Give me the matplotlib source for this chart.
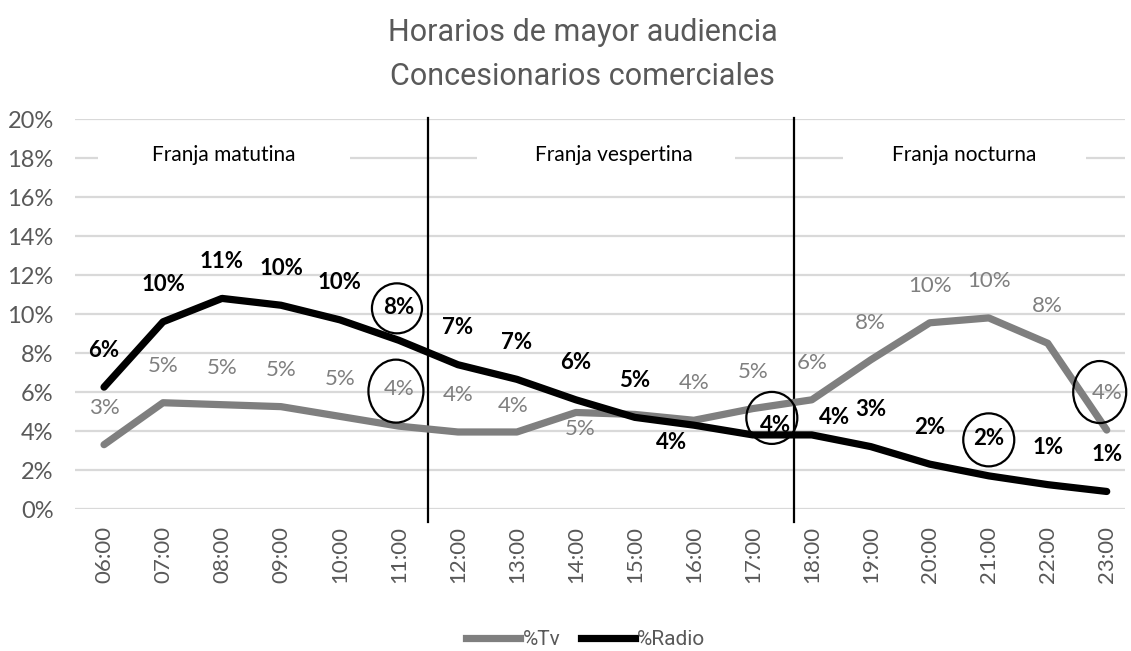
import matplotlib
matplotlib.use('Agg')
import matplotlib.pyplot as plt
from matplotlib.patches import Ellipse, Rectangle
from matplotlib.transforms import IdentityTransform, ScaledTranslation
from matplotlib.lines import Line2D

# datos
horas = ['06:00', '07:00', '08:00', '09:00', '10:00', '11:00', '12:00', '13:00', '14:00',
         '15:00', '16:00', '17:00', '18:00', '19:00', '20:00', '21:00', '22:00', '23:00']
tv = [3.3, 5.45, 5.35, 5.25, 4.75, 4.25, 3.95, 3.95, 4.95,
      4.85, 4.55, 5.15, 5.6, 7.65, 9.55, 9.8, 8.5, 4.05]
radio = [6.25, 9.6, 10.8, 10.45, 9.7, 8.65, 7.4, 6.65, 5.6,
         4.7, 4.3, 3.8, 3.8, 3.2, 2.3, 1.7, 1.25, 0.9]
tv_etiquetas = ['3%', '5%', '5%', '5%', '5%', '4%', '4%', '4%', '5%',
                '', '4%', '5%', '6%', '8%', '10%', '10%', '8%', '4%']
radio_etiquetas = ['6%', '10%', '11%', '10%', '10%', '8%', '7%', '7%', '6%',
                   '5%', '4%', '4%', '4%', '3%', '2%', '2%', '1%', '1%']
franjas = ['Franja matutina', 'Franja vespertina', 'Franja nocturna']
cortes = [5.5, 11.7]
y_ticks = [0, 2, 4, 6, 8, 10, 12, 14, 16, 18, 20]

NARROW = ['Roboto', 'DejaVu Sans']
CAL = ['Lato', 'DejaVu Sans']
GRIS = '#7f7f7f'

fig = plt.figure(figsize=(11.31, 6.51), dpi=100)
ax = fig.add_axes([0.0659, 0.2181, 0.9288, 0.5991])
ax.set_axisbelow(True)

x = list(range(len(horas)))
ax.plot(x, tv, color=GRIS, linewidth=5.2, solid_capstyle='round', label='%Tv', zorder=3)
ax.plot(x, radio, color='black', linewidth=5.2, solid_capstyle='round', label='%Radio', zorder=4)

ax.set_xlim(-0.5, 17.31)
ax.set_ylim(0, 20)
ax.set_yticks(y_ticks)
ax.set_yticklabels([f'{v}%' for v in y_ticks], color='#595959', fontsize=17, family=CAL)
ax.set_xticks(x)
ax.set_xticklabels(horas, rotation=90, color='#595959', fontsize=16, family=CAL)
ax.tick_params(axis='y', length=0, pad=15)
ax.tick_params(axis='x', length=0, pad=12)
ax.grid(axis='y', color='#d9d9d9', linewidth=1.6)
for s in ax.spines.values():
    s.set_visible(False)

# etiquetas de datos (desplazamiento en pixeles)
off_tv = {7: (-4, 26), 8: (4, -17)}
off_radio = {5: (0, 33), 10: (-22, -17), 11: (23, 9), 12: (23, 17)}
for i in x:
    dx, dy = off_tv.get(i, (0, 37))
    ax.annotate(tv_etiquetas[i], (i, tv[i]), xytext=(dx, dy), textcoords='offset pixels',
                ha='center', va='center', color=GRIS, fontsize=16, family=CAL, zorder=5)
    dx, dy = off_radio.get(i, (0, 37))
    ax.annotate(radio_etiquetas[i], (i, radio[i]), xytext=(dx, dy), textcoords='offset pixels',
                ha='center', va='center', color='black', fontsize=16, fontweight='bold',
                family=CAL, zorder=5)

# circulos
circulos = [(radio, 5, -2, 32, 50, 50), (tv, 5, -3, 35, 55, 63), (radio, 11, 19, 17, 51, 52),
            (radio, 15, 0, 36, 51, 53), (tv, 17, -7, 38, 53, 62)]
for serie, i, dx, dy, w, h in circulos:
    tr = IdentityTransform() + ScaledTranslation(i, serie[i], ax.transData)
    ax.add_patch(Ellipse((dx, dy), w, h, transform=tr, fill=False, edgecolor='black',
                         linewidth=1.6, clip_on=False, zorder=6))

# divisiones de franjas
for c in cortes:
    ax.plot([c, c], [-0.67, 20.05], color='black', linewidth=1.6, clip_on=False, zorder=2.5)

cajas = [(2.03, 4.27), (8.51, 4.36), (14.59, 4.12)]
textos_x = [2.03, 8.64, 14.59]
for nombre, (xc, ancho), xt in zip(franjas, cajas, textos_x):
    ax.add_patch(Rectangle((xc - ancho / 2, 17.3), ancho, 1.5, facecolor='white',
                           edgecolor='none', zorder=2))
    ax.text(xt, 18.15, nombre, ha='center', va='center', fontsize=15, family=CAL,
            color='black', zorder=3)

fig.text(0.515, 0.95, 'Horarios de mayor audiencia', ha='center', va='center',
         fontsize=22, color='#595959', family=NARROW)
fig.text(0.515, 0.882, 'Concesionarios comerciales', ha='center', va='center',
         fontsize=22, color='#595959', family=NARROW)

handles = [Line2D([], [], color=GRIS, linewidth=5.2), Line2D([], [], color='black', linewidth=5.2)]
fig.legend(handles, ['%Tv', '%Radio'], loc='center', bbox_to_anchor=(0.518, 0.017), ncol=2,
           frameon=False, handlelength=2.6, columnspacing=1.0, handletextpad=0.1,
           prop={'family': NARROW, 'size': 15}, labelcolor='#595959')

fig.savefig('out.png', dpi=100, facecolor='white')
